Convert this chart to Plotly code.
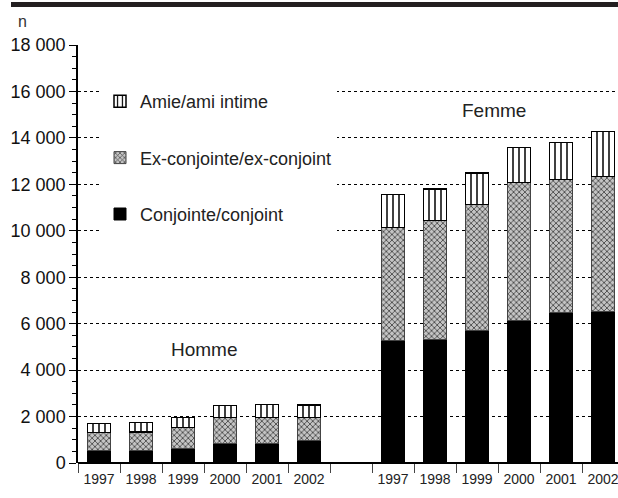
import plotly.graph_objects as go

years = ["1997", "1998", "1999", "2000", "2001", "2002"]
groups = ["Homme", "Femme"]

# values (n)
conjoint_homme = [530, 520, 630, 850, 860, 950]
ex_homme = [790, 810, 890, 1120, 1110, 1020]
amie_homme = [390, 420, 450, 510, 560, 530]

conjoint_femme = [5270, 5300, 5700, 6140, 6490, 6520]
ex_femme = [4880, 5140, 5430, 5930, 5710, 5810]
amie_femme = [1420, 1360, 1350, 1510, 1600, 1940]

y_ticks = [0, 2000, 4000, 6000, 8000, 10000, 12000, 14000, 16000, 18000]
y_labels = ["0", "2 000", "4 000", "6 000", "8 000", "10 000", "12 000",
            "14 000", "16 000", "18 000"]

# slots 0-5 = Homme, slot 6 empty, 7-12 = Femme
x_pos = list(range(0, 6)) + list(range(7, 13))
x_labels = years + years

conjoint = conjoint_homme + conjoint_femme
ex = ex_homme + ex_femme
amie = amie_homme + amie_femme

font = "Liberation Sans, Arial, sans-serif"
W, H = 618, 498
L, T, B = 78, 45, 35
PW, PH = W - L, H - T - B

fig = go.Figure()
fig.add_trace(go.Bar(
    x=x_pos, y=conjoint, name="Conjointe/conjoint", legendgroup="c",
    legendrank=3,
    marker=dict(color="black", line=dict(color="black", width=1)), width=0.55,
))
fig.add_trace(go.Bar(
    x=x_pos, y=ex, name="Ex-conjointe/ex-conjoint", legendgroup="e",
    legendrank=2,
    marker=dict(color="#a0a0a0", line=dict(color="#444", width=1),
                pattern=dict(shape="x", fgcolor="#4a4a4a", bgcolor="#c4c4c4",
                             size=4, solidity=0.4, fillmode="replace")),
    width=0.55,
))
fig.add_trace(go.Bar(
    x=x_pos, y=amie, name="Amie/ami intime", legendgroup="a",
    legendrank=1,
    marker=dict(color="white", line=dict(color="black", width=1.5),
                pattern=dict(shape="|", fgcolor="black", bgcolor="white",
                             size=6, solidity=0.25, fillmode="replace")),
    width=0.55,
))

fig.update_layout(
    barmode="stack",
    width=W, height=H,
    margin=dict(l=L, r=0, t=T, b=B),
    plot_bgcolor="white", paper_bgcolor="white",
    font=dict(family=font, color="#222"),
    showlegend=True,
    legend=dict(
        x=(100 - L) / PW, y=(H - B - 83) / PH, xanchor="left", yanchor="top",
        traceorder="grouped", tracegroupgap=30,
        bgcolor="white", borderwidth=0,
        font=dict(size=18, family=font, color="#222"),
        itemwidth=30,
    ),
    xaxis=dict(
        range=[-0.5, -0.5 + PW / 42],
        tickmode="array", tickvals=x_pos, ticktext=x_labels,
        ticks="", showgrid=False, zeroline=False, showline=False,
        tickfont=dict(size=14, family=font, color="#222"),
        ticklabeloverflow="allow",
        minor=dict(tickmode="linear", tick0=-0.5, dtick=1, ticks="outside",
                   ticklen=9, tickcolor="#444", tickwidth=1),
        ticklabelstandoff=6,
    ),
    yaxis=dict(
        range=[0, 18000],
        tickmode="array", tickvals=y_ticks, ticktext=y_labels,
        ticks="outside", ticklen=7, tickcolor="black",
        showline=True, linecolor="black", linewidth=1.5,
        showgrid=True, gridcolor="black", griddash="dot", gridwidth=1,
        zeroline=True, zerolinecolor="black", zerolinewidth=1.5,
        tickfont=dict(size=18, family=font, color="#111"),
        minor=dict(tickmode="linear", tick0=0, dtick=500, ticks="outside",
                   ticklen=4, tickcolor="black", showgrid=False),
        ticklabelstandoff=0,
    ),
    shapes=[
        dict(type="rect", xref="paper", yref="paper",
             x0=(11 - L) / PW, x1=1.0,
             y0=(H - B - 7) / PH, y1=(H - B - 2) / PH,
             fillcolor="#231f20", line=dict(width=0), layer="above"),
    ],
    annotations=[
        dict(text="n", xref="paper", yref="paper", x=(16 - L) / PW,
             y=(H - B - 22) / PH,
             showarrow=False, xanchor="left", yanchor="middle",
             font=dict(size=16, family=font, color="#333")),
        dict(text="Homme", x=2.5, y=4900, showarrow=False,
             font=dict(size=19, family=font, color="#222")),
        dict(text="Femme", x=9.4, y=15200, showarrow=False,
             font=dict(size=19, family=font, color="#222")),
    ],
)

fig.write_html("out.html", config={"displayModeBar": False},
               post_script="document.body.style.margin='0';")
